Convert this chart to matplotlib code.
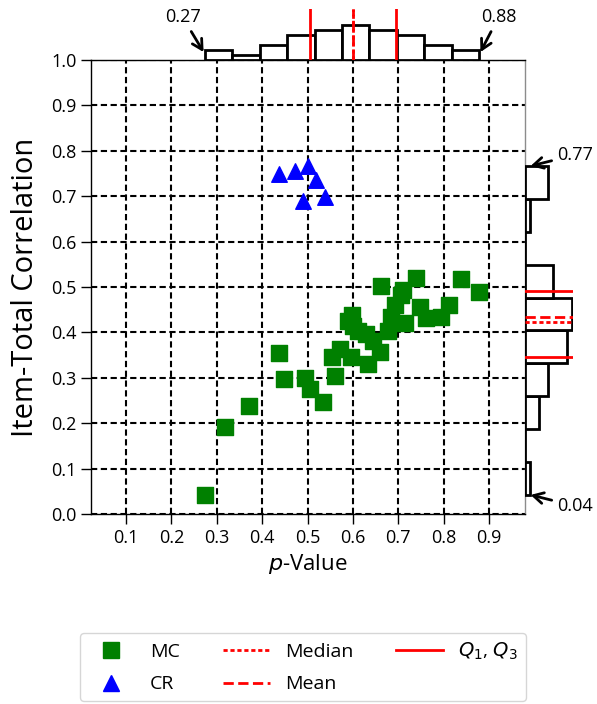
"""Scatter of item p-value vs item-total correlation with marginal histograms."""

import numpy as np
import matplotlib
matplotlib.use("Agg")
import matplotlib.pyplot as plt
from matplotlib.lines import Line2D

plt.rcParams['font.family'] = ['Open Sans', 'DejaVu Sans']

# multiple-choice items (p-value, item-total correlation)
mc_p = [0.274, 0.318, 0.372, 0.4366, 0.449, 0.494, 0.5065, 0.534, 0.5535,
        0.561, 0.572, 0.590, 0.596, 0.598, 0.601, 0.612, 0.628, 0.634,
        0.644, 0.659, 0.6608, 0.677, 0.684, 0.692, 0.705, 0.710, 0.7155,
        0.7397, 0.747, 0.760, 0.795, 0.811, 0.8374, 0.8778]
mc_r = [0.042, 0.192, 0.238, 0.354, 0.297, 0.300, 0.276, 0.246, 0.345,
        0.304, 0.363, 0.426, 0.345, 0.438, 0.415, 0.402, 0.397, 0.331,
        0.380, 0.3575, 0.502, 0.404, 0.4346, 0.460, 0.482, 0.493, 0.420,
        0.519, 0.455, 0.431, 0.433, 0.460, 0.5176, 0.4897]

# constructed-response items
cr_p = [0.438, 0.473, 0.5014, 0.519, 0.4896, 0.539]
cr_r = [0.749, 0.756, 0.7665, 0.736, 0.690, 0.6975]

x_ticks = [0.1, 0.2, 0.3, 0.4, 0.5, 0.6, 0.7, 0.8, 0.9]
y_ticks = [0.0, 0.1, 0.2, 0.3, 0.4, 0.5, 0.6, 0.7, 0.8, 0.9, 1.0]

all_p = np.array(mc_p + cr_p)
all_r = np.array(mc_r + cr_r)

W, H = 597, 704
fig = plt.figure(figsize=(W / 100, H / 100), dpi=100)

def fig_rect(x0, y0, x1, y1):
    # pixel box -> figure fraction
    return [x0 / W, 1 - y1 / H, (x1 - x0) / W, (y1 - y0) / H]

ax = fig.add_axes(fig_rect(91, 60, 525, 514))
ax_top = fig.add_axes(fig_rect(91, 9, 525, 60), sharex=ax)
ax_right = fig.add_axes(fig_rect(525, 60, 573, 514), sharey=ax)

# main scatter
ax.scatter(mc_p, mc_r, marker='s', s=125, color='green', zorder=3)
ax.scatter(cr_p, cr_r, marker='^', s=125, color='blue', zorder=3)
ax.set_xlim(0.023, 0.979)
ax.set_ylim(0.0, 1.0)
ax.set_xticks(x_ticks)
ax.set_yticks(y_ticks)
ax.tick_params(labelsize=13, length=7, width=1)
ax.grid(True, color='black', linestyle=(0, (3, 1.7)), linewidth=1.5)
ax.set_axisbelow(True)
ax.set_xlabel('$p$-Value', fontsize=16)
ax.set_ylabel('Item-Total Correlation', fontsize=21, labelpad=8)
for side in ax.spines.values():
    side.set_linewidth(1)
ax.spines['right'].set_color('0.55')

# top histogram (p-values)
ax_top.hist(all_p, bins=10, facecolor='white', edgecolor='black', linewidth=2)
ax_top.set_ylim(0, 10.3)
q1_p, q3_p = np.percentile(all_p, [25, 75])
for q in (q1_p, q3_p):
    ax_top.axvline(q, color='red', linewidth=2)
ax_top.axvline(np.median(all_p), color='red', linewidth=2, linestyle=(0, (1.5, 1)))
ax_top.axvline(np.mean(all_p), color='red', linewidth=2, linestyle='--')
ax_top.axis('off')

# right histogram (correlations)
ax_right.hist(all_r, bins=10, orientation='horizontal', facecolor='white',
              edgecolor='black', linewidth=2)
ax_right.set_xlim(0, 10.3)
q1_r, q3_r = np.percentile(all_r, [25, 75])
for q in (q1_r, q3_r):
    ax_right.axhline(q, color='red', linewidth=2)
ax_right.axhline(np.median(all_r), color='red', linewidth=2, linestyle=(0, (1.5, 1)))
ax_right.axhline(np.mean(all_r), color='red', linewidth=2, linestyle='--')
ax_right.axis('off')

# min / max call-outs
arrow = dict(arrowstyle='->, head_length=0.55, head_width=0.3', color='black',
             lw=2, shrinkB=0)
top_counts, _ = np.histogram(all_p, bins=10)
ax_top.annotate(f"{all_p.min():.2f}", xy=(all_p.min() - 0.003, top_counts[0] - 0.4),
                xytext=(-15, 25), textcoords='offset points', ha='center',
                va='center', fontsize=13, arrowprops=arrow, annotation_clip=False)
ax_top.annotate(f"{all_p.max():.2f}", xy=(all_p.max() + 0.003, top_counts[-1] - 0.4),
                xytext=(13, 25), textcoords='offset points', ha='center',
                va='center', fontsize=13, arrowprops=arrow, annotation_clip=False)
ax_right.annotate(f"{all_r.max():.2f}", xy=(1.2, all_r.max()),
                  xytext=(32, 8), textcoords='offset points', ha='center',
                  va='center', fontsize=13, arrowprops=arrow, annotation_clip=False)
ax_right.annotate(f"{all_r.min():.2f}", xy=(1.2, all_r.min()),
                  xytext=(32, -8), textcoords='offset points', ha='center',
                  va='center', fontsize=13, arrowprops=arrow, annotation_clip=False)

handles = [
    Line2D([], [], marker='s', color='green', linestyle='none', markersize=11),
    Line2D([], [], marker='^', color='blue', linestyle='none', markersize=11),
    Line2D([], [], color='red', linewidth=2, linestyle=(0, (1.5, 1))),
    Line2D([], [], color='red', linewidth=2, linestyle='--'),
    Line2D([], [], color='red', linewidth=2),
]
labels = ['MC', 'CR', 'Median', 'Mean', '$Q_1$, $Q_3$']
fig.legend(handles, labels, loc='upper center', bbox_to_anchor=(303 / W, 1 - 633 / H),
           ncol=3, fontsize=14, handlelength=2.4, columnspacing=2.2,
           handletextpad=0.8, labelspacing=0.75, borderpad=0.4, borderaxespad=0)

fig.savefig('out.png', dpi=100)
